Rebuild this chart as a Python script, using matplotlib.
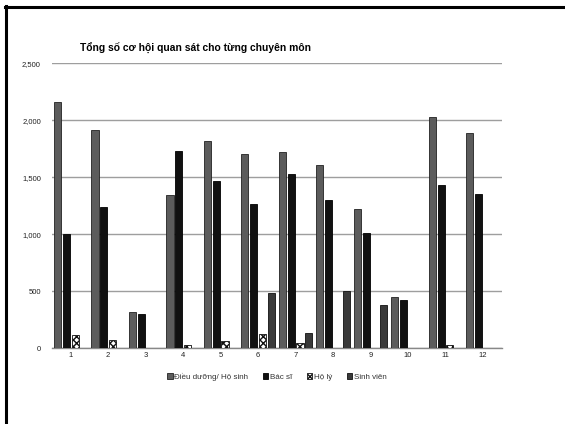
import numpy as np
import matplotlib.pyplot as plt
from matplotlib.ticker import FuncFormatter

# observation counts per specialty (1..12)
specialties = list(range(1, 13))
dieu_duong = [2163, 1918, 318, 1342, 1816, 1704, 1719, 1608, 1219, 447, 2032, 1886]
bac_si = [1003, 1234, 295, 1733, 1465, 1268, 1526, 1298, 1009, 418, 1432, 1356]
ho_ly = [117, 67, 5, 23, 58, 125, 44, 5, 5, 5, 23, 0]
sinh_vien = [0, 0, 0, 0, 0, 482, 135, 503, 377, 0, 0, 0]

series_names = ['Điều dưỡng/ Hộ sinh', 'Bác sĩ', 'Hộ lý', 'Sinh viên']

plt.rcParams['font.family'] = ['Liberation Sans', 'DejaVu Sans']

fig = plt.figure(figsize=(5.65, 4.24), dpi=100)
ax = fig.add_axes([0.092, 0.179, 0.796, 0.672])

x = np.array(specialties)
w = 0.19
step = 0.235
styles = [
    dict(color='#5c5c5c', edgecolor='#222222'),
    dict(color='#111111', edgecolor='#000000'),
    dict(color='white', edgecolor='#111111', hatch='xxxxx'),
    dict(color='#3a3a3a', edgecolor='#111111'),
]
data = [dieu_duong, bac_si, ho_ly, sinh_vien]
for i, (vals, st) in enumerate(zip(data, styles)):
    ax.bar(x + (i - 1.5) * step, vals, w, linewidth=0.6, label=series_names[i],
           zorder=3, **st)

ax.set_xlim(0.5, 12.5)
ax.set_ylim(0, 2500)
ax.set_yticks([0, 500, 1000, 1500, 2000, 2500])
ax.yaxis.set_major_formatter(FuncFormatter(lambda v, p: f'{int(v):,}'))
ax.set_xticks(x)
ax.tick_params(length=0, labelsize=5.5, colors='#222222')
ax.tick_params(axis='x', pad=3)
ax.tick_params(axis='y', pad=8)
ax.grid(axis='y', color='#9e9e9e', linewidth=1.0, zorder=0)
for s in ['left', 'right', 'top']:
    ax.spines[s].set_visible(False)
ax.spines['bottom'].set_color('#888888')
ax.spines['bottom'].set_linewidth(1.0)

fig.text(0.142, 0.886, 'Tổng số cơ hội quan sát cho từng chuyên môn',
         fontsize=7.4, fontweight='bold', ha='left', va='center')

ax.legend(loc='upper center', bbox_to_anchor=(0.5, -0.06), ncol=4, frameon=False,
          fontsize=5.8, handlelength=0.7, handleheight=0.7, handletextpad=0.2,
          columnspacing=1.8, labelcolor='#333333')

# frame lines along the left and top edges
fig.add_artist(plt.Line2D([0.011, 0.011], [0, 0.986], color='black', linewidth=2.2,
                          transform=fig.transFigure))
fig.add_artist(plt.Line2D([0.009, 1.0], [0.984, 0.984], color='black', linewidth=2.2,
                          transform=fig.transFigure))

fig.savefig('out.png', dpi=100)
